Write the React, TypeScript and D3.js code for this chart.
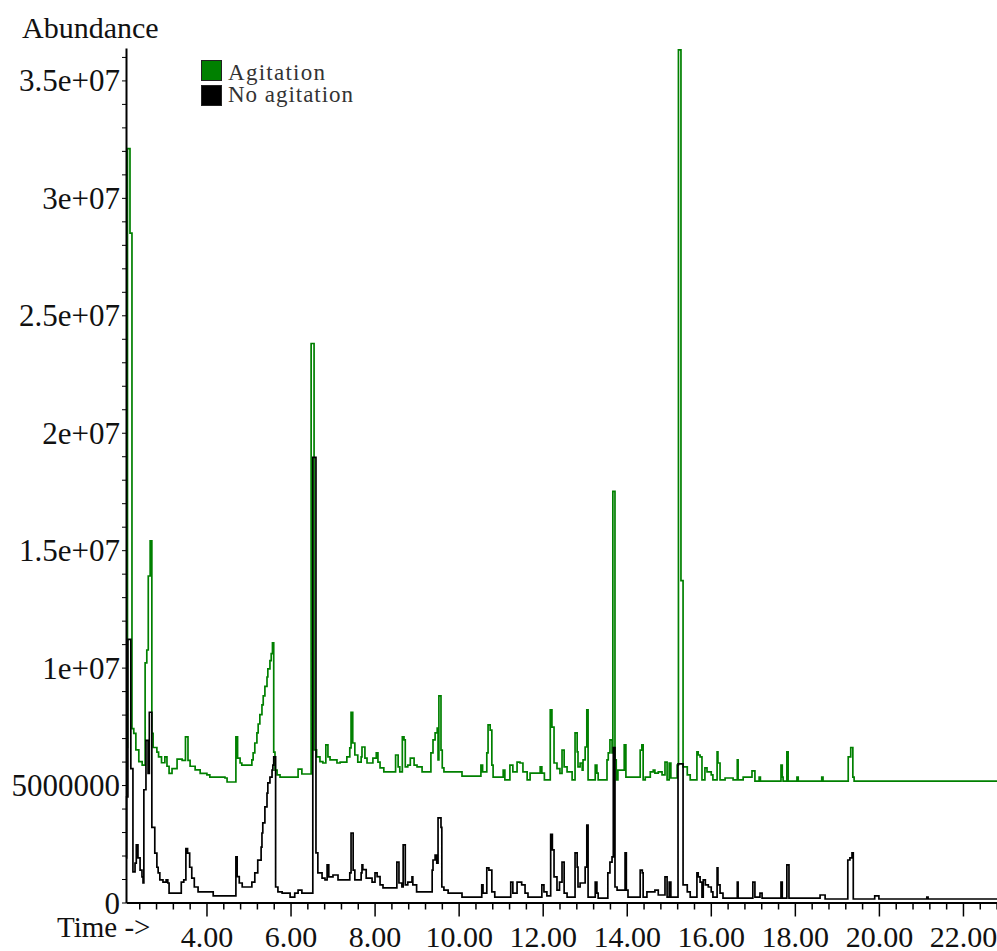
import React, { useEffect, useRef } from "react";
import * as d3 from "d3";

const W = 997;
const H = 951;

const seriesNames = ["Agitation", "No agitation"];
const seriesColors = ["#008000", "#000000"];

// [retention time (min), abundance]
const agitation: [number, number][] = [
  [2.085, 6.6e6], [2.12, 32.1e6], [2.18, 28.5e6], [2.227, 7.4e6], [2.27, 7.2e6],
  [2.32, 6.5e6], [2.39, 6.0e6], [2.47, 5.85e6], [2.54, 10.2e6], [2.58, 10.75e6],
  [2.615, 13.9e6], [2.66, 15.4e6], [2.7, 7.2e6], [2.73, 6.6e6], [2.82, 6.4e6],
  [2.86, 6.2e6], [2.93, 5.95e6], [3.01, 6.2e6], [3.06, 5.8e6], [3.11, 5.5e6],
  [3.18, 5.7e6], [3.3, 6.1e6], [3.42, 6.05e6], [3.5, 7.05e6], [3.56, 6.05e6],
  [3.61, 5.8e6], [3.73, 5.65e6], [3.85, 5.5e6], [4.01, 5.43e6], [4.08, 5.34e6],
  [4.44, 5.3e6], [4.49, 5.13e6], [4.7, 7.05e6], [4.74, 6.15e6], [4.8, 5.94e6],
  [4.84, 5.85e6], [5.08, 6.07e6], [5.11, 6.37e6], [5.15, 6.79e6], [5.2, 7.22e6],
  [5.23, 7.6e6], [5.27, 8.0e6], [5.32, 8.41e6], [5.35, 8.8e6], [5.39, 9.2e6],
  [5.44, 9.6e6], [5.46, 9.95e6], [5.51, 10.3e6], [5.54, 10.6e6], [5.57, 11.05e6],
  [5.6, 6.4e6], [5.63, 5.64e6], [5.68, 5.43e6], [5.75, 5.34e6], [6.18, 5.68e6],
  [6.27, 5.47e6], [6.49, 23.8e6], [6.56, 6.5e6], [6.62, 6.2e6], [6.7, 6.0e6],
  [6.77, 5.94e6], [6.84, 6.71e6], [6.89, 6.2e6], [6.94, 6.07e6], [7.105, 5.94e6],
  [7.18, 5.98e6], [7.34, 6.2e6], [7.41, 6.58e6], [7.44, 8.1e6], [7.48, 6.79e6],
  [7.53, 6.28e6], [7.6, 5.98e6], [7.68, 6.2e6], [7.7, 6.62e6], [7.77, 6.15e6],
  [7.82, 5.94e6], [7.96, 6.15e6], [8.04, 6.37e6], [8.08, 5.98e6], [8.13, 5.73e6],
  [8.22, 5.56e6], [8.5, 6.28e6], [8.56, 5.77e6], [8.6, 5.56e6], [8.66, 7.05e6],
  [8.7, 6.92e6], [8.73, 5.77e6], [8.79, 5.85e6], [8.85, 6.15e6], [8.94, 5.85e6],
  [9.01, 5.77e6], [9.13, 5.56e6], [9.34, 6.37e6], [9.39, 6.92e6], [9.44, 7.22e6],
  [9.49, 7.43e6], [9.51, 6.07e6], [9.53, 8.8e6], [9.58, 6.49e6], [9.61, 5.73e6],
  [9.65, 5.56e6], [10.08, 5.38e6], [10.53, 5.85e6], [10.57, 5.56e6], [10.67, 6.37e6],
  [10.7, 7.56e6], [10.75, 7.34e6], [10.79, 5.85e6], [10.82, 5.34e6], [11.06, 5.64e6],
  [11.1, 5.22e6], [11.22, 5.85e6], [11.29, 5.56e6], [11.39, 5.98e6], [11.46, 5.94e6],
  [11.53, 5.56e6], [11.63, 5.22e6], [11.7, 5.51e6], [11.94, 5.77e6], [11.98, 5.51e6],
  [12.04, 5.22e6], [12.18, 8.2e6], [12.22, 7.47e6], [12.27, 5.94e6], [12.34, 5.7e6],
  [12.41, 5.5e6], [12.46, 6.49e6], [12.51, 5.77e6], [12.58, 5.56e6], [12.7, 5.22e6],
  [12.77, 7.22e6], [12.82, 6.41e6], [12.84, 5.77e6], [12.89, 5.94e6], [12.94, 5.64e6],
  [12.96, 6.07e6], [13.01, 6.62e6], [13.05, 8.2e6], [13.08, 5.22e6], [13.25, 5.85e6],
  [13.29, 5.51e6], [13.32, 5.22e6], [13.53, 6.07e6], [13.56, 6.37e6], [13.6, 6.92e6],
  [13.65, 6.37e6], [13.67, 17.5e6], [13.72, 6.07e6], [13.75, 5.22e6], [13.79, 5.64e6],
  [13.94, 6.71e6], [13.98, 5.34e6], [14.32, 6.49e6], [14.36, 6.71e6], [14.39, 5.22e6],
  [14.44, 5.34e6], [14.56, 5.56e6], [14.63, 5.64e6], [14.67, 5.51e6], [14.75, 5.56e6],
  [14.84, 5.43e6], [14.91, 5.98e6], [14.96, 5.22e6], [15.01, 5.94e6], [15.05, 5.3e6],
  [15.2, 5.85e6], [15.23, 36.3e6], [15.29, 13.7e6], [15.34, 5.77e6], [15.44, 5.43e6],
  [15.51, 5.22e6], [15.67, 6.41e6], [15.7, 6.28e6], [15.745, 6.2e6], [15.79, 5.22e6],
  [15.86, 5.73e6], [15.91, 5.56e6], [16.01, 5.43e6], [16.05, 5.22e6], [16.15, 6.41e6],
  [16.17, 5.94e6], [16.22, 5.22e6], [16.34, 5.3e6], [16.53, 5.22e6], [16.63, 6.07e6],
  [16.65, 5.22e6], [16.77, 5.34e6], [16.98, 5.6e6], [17.05, 5.17e6], [17.15, 5.34e6],
  [17.18, 5.17e6], [17.67, 5.85e6], [17.7, 5.34e6], [17.72, 5.17e6], [17.81, 6.41e6],
  [17.84, 5.17e6], [18.05, 5.34e6], [18.08, 5.17e6], [18.64, 5.34e6], [18.67, 5.17e6],
  [19.27, 6.2e6], [19.33, 6.6e6], [19.38, 5.34e6], [19.41, 5.17e6], [22.81, 5.17e6],
];

const noAgitation: [number, number][] = [
  [2.085, 1.9e6], [2.1, 4.5e6], [2.13, 11.2e6], [2.2, 5.7e6], [2.25, 1.3e6],
  [2.3, 1.68e6], [2.33, 2.45e6], [2.37, 1.9e6], [2.42, 1.38e6], [2.465, 1.09e6],
  [2.49, 0.83e6], [2.51, 4.8e6], [2.56, 6.9e6], [2.61, 5.5e6], [2.64, 8.1e6],
  [2.7, 3.2e6], [2.77, 2.1e6], [2.82, 1.5e6], [2.85, 1.26e6], [2.89, 0.96e6],
  [2.965, 0.87e6], [3.04, 0.96e6], [3.08, 0.83e6], [3.11, 0.4e6], [3.4, 0.87e6],
  [3.46, 0.96e6], [3.51, 2.3e6], [3.55, 2.1e6], [3.6, 1.5e6], [3.65, 1.04e6],
  [3.71, 0.66e6], [3.8, 0.45e6], [4.16, 0.28e6], [4.7, 1.94e6], [4.73, 1.1e6],
  [4.78, 0.83e6], [4.85, 0.66e6], [5.08, 0.87e6], [5.15, 1.26e6], [5.22, 1.8e6],
  [5.3, 2.36e6], [5.32, 2.96e6], [5.34, 3.39e6], [5.39, 4.07e6], [5.44, 4.66e6],
  [5.46, 5.09e6], [5.51, 5.34e6], [5.56, 5.64e6], [5.58, 5.85e6], [5.6, 6.2e6],
  [5.645, 0.66e6], [5.7, 0.45e6], [5.8, 0.4e6], [5.99, 0.23e6], [6.1, 0.4e6],
  [6.18, 0.53e6], [6.27, 0.4e6], [6.53, 18.95e6], [6.605, 2.11e6], [6.65, 1.26e6],
  [6.75, 1.04e6], [6.82, 0.96e6], [6.87, 1.6e6], [6.91, 1.09e6], [7.01, 1.17e6],
  [7.13, 0.96e6], [7.41, 1.26e6], [7.44, 2.96e6], [7.49, 1.38e6], [7.53, 0.96e6],
  [7.68, 1.26e6], [7.7, 1.6e6], [7.72, 1.4e6], [7.8, 1.04e6], [7.94, 0.87e6],
  [8.01, 1.26e6], [8.06, 1.1e6], [8.13, 0.75e6], [8.2, 0.62e6], [8.53, 1.72e6],
  [8.58, 0.83e6], [8.65, 0.66e6], [8.68, 2.45e6], [8.73, 0.75e6], [8.79, 0.87e6],
  [8.89, 1.09e6], [8.91, 0.75e6], [9.0, 0.45e6], [9.37, 1.38e6], [9.39, 1.81e6],
  [9.44, 2.02e6], [9.48, 1.68e6], [9.51, 3.6e6], [9.58, 3.2e6], [9.6, 0.66e6],
  [9.65, 0.53e6], [9.75, 0.4e6], [10.08, 0.23e6], [10.55, 0.75e6], [10.58, 0.4e6],
  [10.67, 1.47e6], [10.72, 1.38e6], [10.79, 0.45e6], [10.86, 0.23e6], [11.24, 0.87e6],
  [11.29, 0.4e6], [11.39, 0.87e6], [11.5, 0.75e6], [11.58, 0.4e6], [11.65, 0.23e6],
  [11.98, 0.75e6], [12.03, 0.45e6], [12.1, 0.28e6], [12.19, 2.9e6], [12.23, 2.24e6],
  [12.27, 1.09e6], [12.34, 0.53e6], [12.4, 0.87e6], [12.46, 1.72e6], [12.51, 0.4e6],
  [12.58, 0.23e6], [12.77, 2.11e6], [12.82, 1.51e6], [12.84, 0.66e6], [12.89, 0.83e6],
  [13.01, 1.51e6], [13.05, 3.3e6], [13.08, 0.23e6], [13.25, 0.87e6], [13.29, 0.4e6],
  [13.32, 0.19e6], [13.55, 1.26e6], [13.6, 1.72e6], [13.65, 1.94e6], [13.68, 6.6e6],
  [13.72, 0.66e6], [13.77, 0.53e6], [13.96, 2.11e6], [13.99, 0.53e6], [14.03, 0.23e6],
  [14.32, 1.38e6], [14.37, 1.26e6], [14.39, 0.23e6], [14.48, 0.45e6], [14.67, 0.53e6],
  [14.75, 0.32e6], [14.91, 1.09e6], [14.96, 0.23e6], [15.01, 0.87e6], [15.05, 0.23e6],
  [15.22, 5.9e6], [15.34, 0.75e6], [15.44, 0.45e6], [15.51, 0.23e6], [15.67, 1.26e6],
  [15.7, 1.09e6], [15.745, 0.87e6], [15.79, 0.23e6], [15.82, 0.96e6], [15.87, 0.75e6],
  [15.94, 0.66e6], [16.01, 0.45e6], [16.05, 0.23e6], [16.15, 1.47e6], [16.17, 0.75e6],
  [16.22, 0.4e6], [16.29, 0.19e6], [16.63, 0.87e6], [16.65, 0.19e6], [17.0, 0.87e6],
  [17.05, 0.23e6], [17.17, 0.4e6], [17.22, 0.19e6], [17.67, 0.87e6], [17.7, 0.19e6],
  [17.81, 1.6e6], [17.86, 0.19e6], [18.6, 0.32e6], [18.72, 0.15e6], [19.26, 1.81e6],
  [19.31, 1.9e6], [19.36, 2.11e6], [19.39, 0.15e6], [19.9, 0.28e6], [20.0, 0.15e6],
  [21.14, 0.23e6], [21.17, 0.15e6], [22.81, 0.15e6],
];

const yTickLabels = ["0", "5000000", "1e+07", "1.5e+07", "2e+07", "2.5e+07", "3e+07", "3.5e+07"];
const xTickLabels = ["4.00", "6.00", "8.00", "10.00", "12.00", "14.00", "16.00", "18.00", "20.00", "22.00"];

const FONT = "'Liberation Serif', 'Times New Roman', serif";

const App = () => {
  const ref = useRef<SVGSVGElement>(null);

  useEffect(() => {
    const svg = d3.select(ref.current);
    svg.selectAll("*").remove();

    const x = d3.scaleLinear().domain([2.085, 22.81]).range([126, 997]);
    const y = d3.scaleLinear().domain([0, 3.638e7]).range([902.5, 48]);

    // traces, black drawn last so it sits on top
    const trace = d3
      .line<[number, number]>()
      .x((d) => x(d[0]))
      .y((d) => y(d[1]))
      .curve(d3.curveStepAfter);

    [agitation, noAgitation].forEach((data, i) => {
      svg
        .append("path")
        .attr("d", trace(data))
        .attr("fill", "none")
        .attr("stroke", seriesColors[i])
        .attr("stroke-width", 1.7);
    });

    // y axis: ticks every 1e6, labels every 5e6
    const yTicks = d3.range(0, 37).map((i) => i * 1e6);
    const yAxis = d3
      .axisLeft(y)
      .tickValues(yTicks)
      .tickSize(4)
      .tickSizeOuter(0)
      .tickPadding(2)
      .tickFormat((d, i) => (i % 5 === 0 ? yTickLabels[i / 5] ?? "" : ""));
    const gy = svg.append("g").attr("transform", "translate(126,0)").call(yAxis);
    gy.select(".domain").attr("stroke-width", 2);
    gy.selectAll("text")
      .attr("font-family", FONT)
      .attr("font-size", 31)
      .attr("fill", "#111")
      .attr("dy", "0.34em");

    // x axis: ticks every 0.4 min, long ones at even minutes
    const xTicks = d3.range(6, 58).map((i) => +(i * 0.4).toFixed(1));
    const xAxis = d3
      .axisBottom(x)
      .tickValues(xTicks)
      .tickSize(7)
      .tickSizeOuter(0)
      .tickFormat((d, i) => {
        const k = i + 6;
        return k % 5 === 0 ? xTickLabels[k / 5 - 2] ?? "" : "";
      });
    const gx = svg.append("g").attr("transform", "translate(0,902.5)").call(xAxis);
    gx.select(".domain").attr("stroke-width", 2);
    gx.selectAll(".tick line")
      .attr("stroke-width", 1.5)
      .attr("y2", (d, i) => ((i + 6) % 5 === 0 ? 14 : 7));
    gx.selectAll("text")
      .attr("font-family", FONT)
      .attr("font-size", 30)
      .attr("fill", "#111")
      .attr("y", 44)
      .attr("dy", 0);
    svg.selectAll(".tick line").attr("stroke", "#000");

    svg
      .append("text")
      .attr("x", 22)
      .attr("y", 38)
      .attr("font-family", FONT)
      .attr("font-size", 30)
      .attr("fill", "#111")
      .text("Abundance");

    svg
      .append("text")
      .attr("x", 57)
      .attr("y", 937)
      .attr("font-family", FONT)
      .attr("font-size", 29)
      .attr("fill", "#111")
      .text("Time ->");

    // legend
    const legend = svg.append("g").attr("transform", "translate(201,60)");
    seriesNames.forEach((name, i) => {
      legend
        .append("rect")
        .attr("x", 0.5)
        .attr("y", i * 25 + 0.5)
        .attr("width", 20)
        .attr("height", 20)
        .attr("fill", seriesColors[i])
        .attr("stroke", "#222");
      legend
        .append("text")
        .attr("x", 27)
        .attr("y", i * 22 + 20)
        .attr("font-family", FONT)
        .attr("font-size", 23)
        .attr("fill", "#333")
        .attr("textLength", i === 0 ? 97 : 125)
        .attr("lengthAdjust", "spacing")
        .text(name);
    });
  }, []);

  return (
    <svg
      ref={ref}
      width={W}
      height={H}
      style={{ position: "absolute", left: 0, top: 0, background: "#fff" }}
    />
  );
};

export default App;
